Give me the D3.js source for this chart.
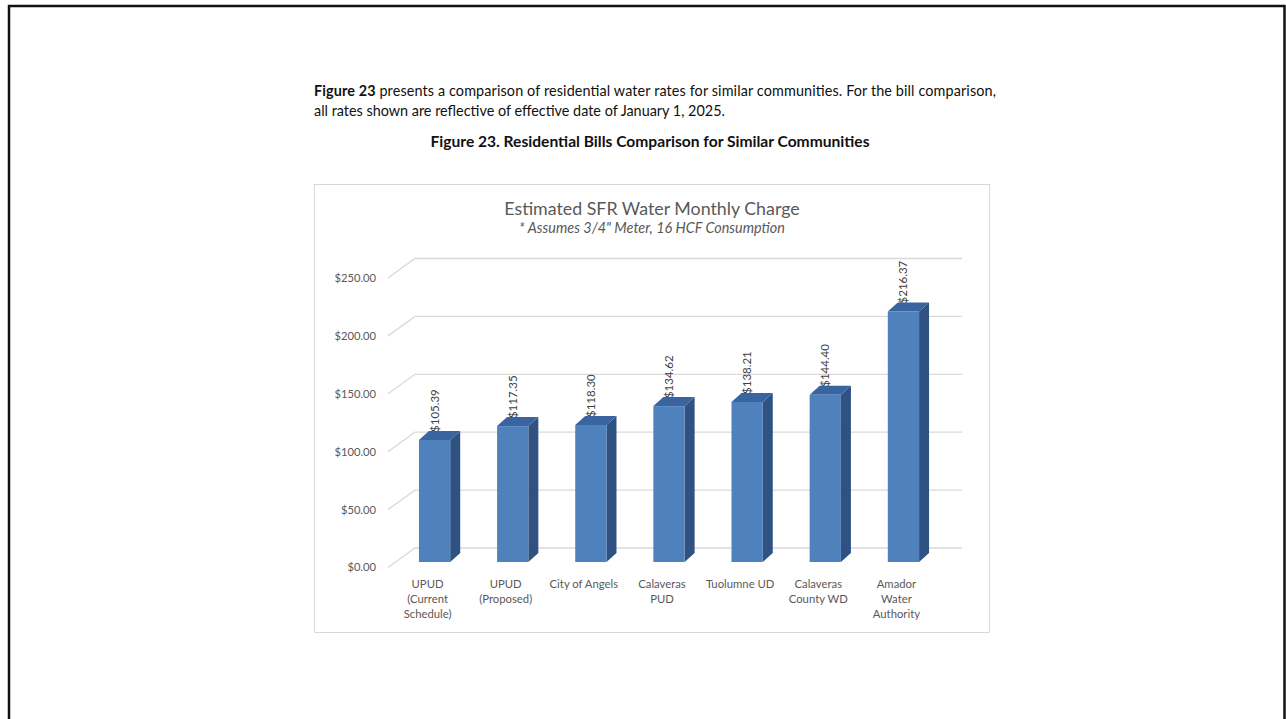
<!DOCTYPE html>
<html>
<head>
<meta charset="utf-8">
<script src="https://cdn.jsdelivr.net/npm/d3@7"></script>
<style>
  body { margin: 0; background: #fff; }
  svg { display: block; }
</style>
</head>
<body>
<div id="chart"></div>
<script>
// chart data
var categories = ["UPUD (Current Schedule)", "UPUD (Proposed)", "City of Angels", "Calaveras PUD",
  "Tuolumne UD", "Calaveras County WD", "Amador Water Authority"];
// how the category names wrap under the bars
var categoryLines = [["UPUD", "(Current", "Schedule)"], ["UPUD", "(Proposed)"], ["City of Angels"],
  ["Calaveras", "PUD"], ["Tuolumne UD"], ["Calaveras", "County WD"], ["Amador", "Water", "Authority"]];
var charges = [105.39, 117.35, 118.30, 134.62, 138.21, 144.40, 216.37];
var yTicks = [0, 50, 100, 150, 200, 250];

var W = 1286, H = 719;
var font = "Lato, 'Open Sans', sans-serif";
var grey = "#595959";

var svg = d3.select("#chart")
  .append("svg")
  .attr("width", W)
  .attr("height", H);

// page frame
svg.append("path")
  .attr("d", "M9,720 L9,6 L1284.5,6 L1284.5,720")
  .attr("fill", "none")
  .attr("stroke", "#111")
  .attr("stroke-width", 2.5);

// text above the figure
var para = svg.append("text")
  .attr("x", 314)
  .attr("y", 96)
  .attr("textLength", 682)
  .style("font-family", font)
  .style("font-size", "14.4px")
  .attr("fill", "#111");
para.append("tspan").style("font-weight", "bold").text("Figure 23");
para.append("tspan").text(" presents a comparison of residential water rates for similar communities. For the bill comparison,");
svg.append("text")
  .attr("x", 314)
  .attr("y", 116)
  .style("font-family", font)
  .style("font-size", "14.4px")
  .attr("fill", "#111")
  .text("all rates shown are reflective of effective date of January 1, 2025.");

svg.append("text")
  .attr("x", 650)
  .attr("y", 147)
  .attr("text-anchor", "middle")
  .style("font-family", font)
  .style("font-size", "15.6px")
  .style("font-weight", "bold")
  .attr("fill", "#111")
  .text("Figure 23. Residential Bills Comparison for Similar Communities");

// chart box
svg.append("rect")
  .attr("x", 314.5)
  .attr("y", 184.5)
  .attr("width", 675)
  .attr("height", 448)
  .attr("fill", "#fff")
  .attr("stroke", "#d9d9d9");

svg.append("text")
  .attr("x", 652)
  .attr("y", 215)
  .attr("text-anchor", "middle")
  .style("font-family", font)
  .style("font-size", "17.8px")
  .attr("fill", grey)
  .text("Estimated SFR Water Monthly Charge");
svg.append("text")
  .attr("x", 652)
  .attr("y", 233)
  .attr("text-anchor", "middle")
  .style("font-family", font)
  .style("font-size", "14.4px")
  .style("font-style", "italic")
  .attr("fill", grey)
  .text("* Assumes 3/4\" Meter, 16 HCF Consumption");

// scales: y gives the front face of the bars, the walls are offset in depth
var x = d3.scaleBand()
  .domain(categories)
  .range([395.5, 942.5])
  .paddingInner(0.6)
  .paddingOuter(0.3);

var y = d3.scaleLinear()
  .domain([0, 250])
  .range([562, 272.5]);

var depth = { dx: 10, dy: -9 };        // bar depth
var wallFront = { x: 388, dy: 5.5 };   // front edge of the floor / gridlines
var wallBack = { x: 415, dy: -14 };    // back wall
var wallRight = 962;

// gridlines: diagonal on the side wall plus the back wall line
var grid = svg.append("g");
grid.selectAll("path")
  .data(yTicks)
  .enter()
  .append("path")
  .attr("d", function (d) {
    return "M" + wallFront.x + "," + (y(d) + wallFront.dy) +
      " L" + wallBack.x + "," + (y(d) + wallBack.dy) +
      " L" + wallRight + "," + (y(d) + wallBack.dy);
  })
  .attr("fill", "none")
  .attr("stroke", "#d9d9d9")
  .attr("stroke-width", 1.3);

// y axis labels
svg.append("g")
  .selectAll("text")
  .data(yTicks)
  .enter()
  .append("text")
  .attr("x", 376)
  .attr("y", function (d) { return y(d) + wallFront.dy; })
  .attr("dy", "0.35em")
  .attr("text-anchor", "end")
  .style("font-family", font)
  .style("font-size", "11.2px")
  .attr("fill", grey)
  .text(function (d) { return "$" + d3.format(".2f")(d); });

// 3D bars
var bars = svg.append("g")
  .selectAll("g")
  .data(charges)
  .enter()
  .append("g");

// side face
bars.append("path")
  .attr("d", function (d, i) {
    var x1 = x(categories[i]) + x.bandwidth();
    return "M" + x1 + "," + y(d) + " L" + (x1 + depth.dx) + "," + (y(d) + depth.dy) +
      " L" + (x1 + depth.dx) + "," + (y(0) + depth.dy) + " L" + x1 + "," + y(0) + "Z";
  })
  .attr("fill", "#2f5283");

// top face
bars.append("path")
  .attr("d", function (d, i) {
    var x0 = x(categories[i]), x1 = x0 + x.bandwidth();
    return "M" + x0 + "," + y(d) + " L" + (x0 + depth.dx) + "," + (y(d) + depth.dy) +
      " L" + (x1 + depth.dx) + "," + (y(d) + depth.dy) + " L" + x1 + "," + y(d) + "Z";
  })
  .attr("fill", "#3a64a0");

// front face
bars.append("rect")
  .attr("x", function (d, i) { return x(categories[i]); })
  .attr("y", function (d) { return y(d); })
  .attr("width", x.bandwidth())
  .attr("height", function (d) { return y(0) - y(d); })
  .attr("fill", "#4f81bd");

// value labels, rotated
bars.append("text")
  .attr("transform", function (d, i) {
    var cx = x(categories[i]) + x.bandwidth() / 2 + 4;
    return "translate(" + cx + "," + (y(d) + depth.dy + 1) + ") rotate(-90)";
  })
  .attr("text-anchor", "start")
  .style("font-family", font)
  .style("font-size", "11.5px")
  .attr("fill", "#404040")
  .text(function (d) { return "$" + d3.format(".2f")(d); });

// category labels
var cat = svg.append("g")
  .selectAll("text")
  .data(categories)
  .enter()
  .append("text")
  .attr("x", function (d) { return x(d) + x.bandwidth() / 2 - 7; })
  .attr("y", 588)
  .attr("text-anchor", "middle")
  .style("font-family", font)
  .style("font-size", "11.3px")
  .attr("fill", grey);

cat.selectAll("tspan")
  .data(function (d, i) { return categoryLines[i]; })
  .enter()
  .append("tspan")
  .attr("x", function () { return d3.select(this.parentNode).attr("x"); })
  .attr("dy", function (d, j) { return j === 0 ? 0 : 15; })
  .text(function (d) { return d; });
</script>
</body>
</html>
